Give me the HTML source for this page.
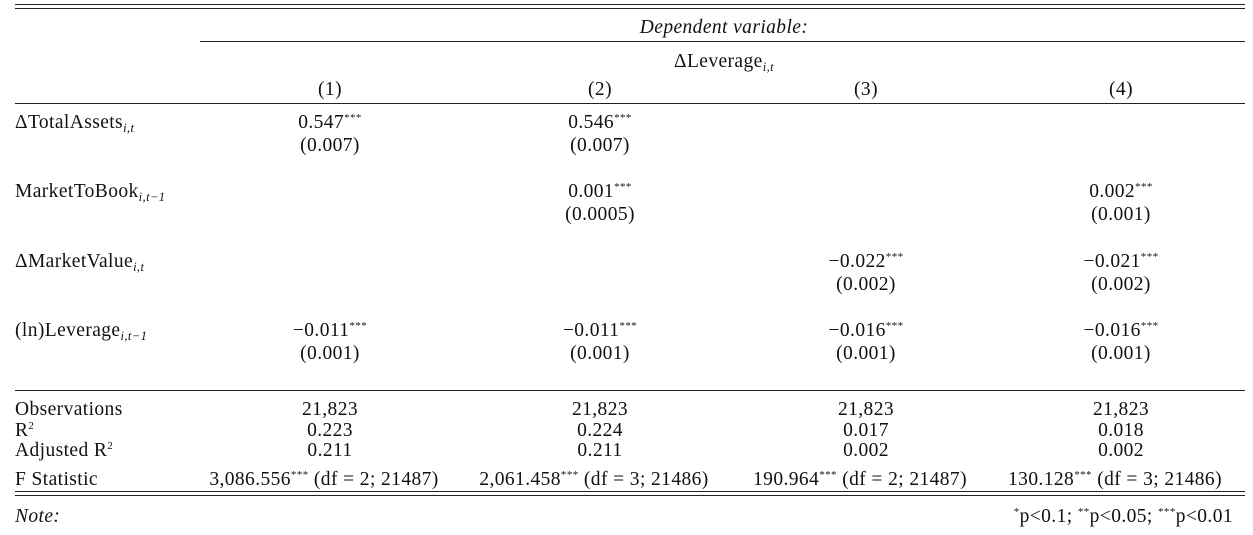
<!DOCTYPE html>
<html><head><meta charset="utf-8">
<style>
html,body{margin:0;padding:0;background:#fff;}
#t{position:relative;width:1253px;height:535px;overflow:hidden;font-family:"Liberation Serif","DejaVu Serif",serif;font-size:19.5px;letter-spacing:0.4px;color:#111;}
.c{position:absolute;height:24px;line-height:24px;white-space:nowrap;transform:translateX(-50%);}
.l{position:absolute;height:24px;line-height:24px;white-space:nowrap;}
.r{position:absolute;height:24px;line-height:24px;white-space:nowrap;transform:translateX(-100%);}
.hr{position:absolute;height:1px;background:#222;}
sup{font-size:11px;vertical-align:0;position:relative;top:-7px;}
sub{font-size:12.5px;font-style:italic;vertical-align:0;position:relative;top:4px;}
i{font-style:italic;}
</style></head>
<body>
<div id="t">
  <div class="hr" style="left:15px;width:1230px;top:4px;"></div>
  <div class="hr" style="left:15px;width:1230px;top:8px;"></div>
  <div class="c" style="left:724px;top:16px;"><i>Dependent variable:</i></div>
  <div class="hr" style="left:200px;width:1045px;top:41px;"></div>
  <div class="c" style="left:724px;top:50px;">ΔLeverage<sub>i,t</sub></div>
  <div class="hr" style="left:15px;width:1230px;top:103px;"></div>
  <div class="hr" style="left:15px;width:1230px;top:390px;"></div>
  <div class="hr" style="left:15px;width:1230px;top:491px;"></div>
  <div class="hr" style="left:15px;width:1230px;top:495px;"></div>
  <div class="l" style="left:15px;top:505px;"><i>Note:</i></div>
  <div class="r" style="left:1233px;top:505px;"><sup>*</sup>p&lt;0.1; <sup>**</sup>p&lt;0.05; <sup>***</sup>p&lt;0.01</div>
</div>
<script>
const models = ["(1)", "(2)", "(3)", "(4)"];
const varLabels = ["ΔTotalAssets<sub>i,t</sub>", "MarketToBook<sub>i,t−1</sub>", "ΔMarketValue<sub>i,t</sub>", "(ln)Leverage<sub>i,t−1</sub>"];
const coefs = [
  ["0.547", "0.546", "", ""],
  ["", "0.001", "", "0.002"],
  ["", "", "−0.022", "−0.021"],
  ["−0.011", "−0.011", "−0.016", "−0.016"]
];
const stars = [
  ["***", "***", "", ""],
  ["", "***", "", "***"],
  ["", "", "***", "***"],
  ["***", "***", "***", "***"]
];
const ses = [
  ["(0.007)", "(0.007)", "", ""],
  ["", "(0.0005)", "", "(0.001)"],
  ["", "", "(0.002)", "(0.002)"],
  ["(0.001)", "(0.001)", "(0.001)", "(0.001)"]
];
const statLabels = ["Observations", "R<sup>2</sup>", "Adjusted R<sup>2</sup>", "F Statistic"];
const observations = ["21,823", "21,823", "21,823", "21,823"];
const r2 = ["0.223", "0.224", "0.017", "0.018"];
const adjR2 = ["0.211", "0.211", "0.002", "0.002"];
const fStat = ["3,086.556", "2,061.458", "190.964", "130.128"];
const fDf = ["(df = 2; 21487)", "(df = 3; 21486)", "(df = 2; 21487)", "(df = 3; 21486)"];

const colX = [330, 600, 866, 1121];
const rowY = [123, 192, 262, 331];
const statY = [410, 431, 451, 480];
const t = document.getElementById('t');
function add(cls, x, y, html) {
  const d = document.createElement('div');
  d.className = cls;
  d.style.left = x + 'px';
  d.style.top = (y - 12) + 'px';
  d.innerHTML = html;
  t.appendChild(d);
  return d;
}
models.forEach((m, j) => {
  const el = add('c', colX[j], 90, m);
  
  
});
varLabels.forEach((lab, i) => {
  const el = add('l', 15, rowY[i], lab);
  
  
  for (let j = 0; j < 4; j++) {
    if (coefs[i][j]) {
      const c = add('c', colX[j], rowY[i], coefs[i][j] + (stars[i][j] ? '<sup>' + stars[i][j] + '</sup>' : ''));
      
      
    }
    if (ses[i][j]) {
      const s = add('c', colX[j], rowY[i] + 23, ses[i][j]);
      
      
    }
  }
});
const statRows = [observations, r2, adjR2];
statLabels.forEach((lab, i) => {
  const el = add('l', 15, statY[i], lab);
  
  
  for (let j = 0; j < 4; j++) {
    const html = i < 3 ? statRows[i][j] : fStat[j] + '<sup>***</sup> ' + fDf[j];
    const v = add('c', colX[j] - (i === 3 ? 6 : 0), statY[i], html);
    
    
  }
});
</script>
</body></html>
